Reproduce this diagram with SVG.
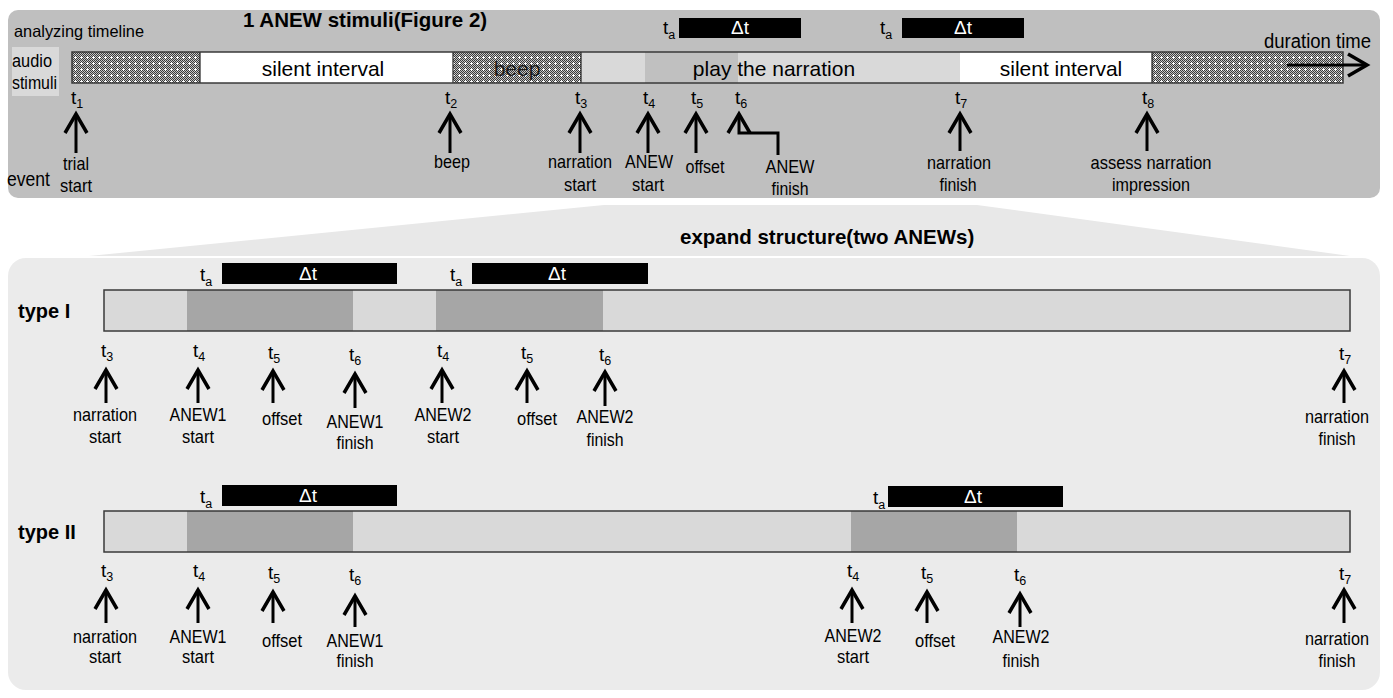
<svg xmlns="http://www.w3.org/2000/svg" width="1393" height="698" viewBox="0 0 1393 698">
  <defs>
    <style>
      text { font-family: "Liberation Sans", Arial, sans-serif; fill: #000; }
      .lbl { font-size: 18.5px; text-anchor: middle; }
      .tk { font-size: 19px; }
      .sub { font-size: 12.5px; }
      .bar-txt { font-size: 21px; text-anchor: middle; }
      .title { font-size: 20.5px; font-weight: bold; }
      .type { font-size: 20px; font-weight: bold; }
      .dt { font-size: 19px; fill: #fff; text-anchor: middle; }
      .dtbox { fill: #000; }
      .light { fill: #d9d9d9; }
      .dark { fill: #a6a6a6; }
      .frame { fill: none; stroke: #3a3a3a; stroke-width: 1.5; }
      .arr { fill: none; stroke: #000; stroke-width: 3; marker-end: url(#head); }
    </style>
    <!-- fine dithered fill used for the sound segments -->
    <pattern id="chk" width="2" height="2" patternUnits="userSpaceOnUse">
      <rect width="2" height="2" fill="#c4c4c4"/>
      <rect width="1" height="1" fill="#3a3a3a"/>
      <rect x="1" y="1" width="1" height="1" fill="#3a3a3a"/>
    </pattern>
    <pattern id="stip" width="6" height="6" patternUnits="userSpaceOnUse">
      <rect width="6" height="6" fill="url(#chk)"/>
      <rect x="2" y="3" width="3" height="1" fill="#fff"/>
      <rect x="3" y="2" width="1" height="3" fill="#fff"/>
    </pattern>
    <!-- open chevron arrowhead -->
    <marker id="head" markerUnits="userSpaceOnUse" viewBox="-22 -12 24 24" refX="0" refY="0" markerWidth="24" markerHeight="24" orient="auto" overflow="visible">
      <path d="M-19,-11 L0,0 L-19,11" fill="none" stroke="#000" stroke-width="3.5" stroke-linejoin="miter" stroke-miterlimit="10"/>
    </marker>
  </defs>

  <!-- backgrounds -->
  <rect x="8" y="10" width="1372" height="188" rx="10" fill="#bfbfbf"/>
  <polygon points="604,205 977,205 1350,256 89,256" fill="#e8e8e8"/>
  <rect x="8" y="258" width="1372" height="432" rx="18" fill="#ebebeb"/>

  <!-- ===== top timeline ===== -->
  <g id="header-top">
    <text x="14" y="37" style="font-size:16.5px" textLength="130" lengthAdjust="spacingAndGlyphs">analyzing timeline</text>
    <text class="title" x="243" y="27">1 ANEW stimuli(Figure 2)</text>
    <text x="1371" y="48" style="font-size:19.5px;text-anchor:end" textLength="107" lengthAdjust="spacingAndGlyphs">duration time</text>
  </g>

  <g id="audio-label">
    <rect x="12" y="47" width="47" height="49" fill="#d9d9d9"/>
    <text x="12" y="67" style="font-size:17.5px" textLength="40" lengthAdjust="spacingAndGlyphs">audio</text>
    <text x="12" y="89" style="font-size:17.5px" textLength="45" lengthAdjust="spacingAndGlyphs">stimuli</text>
  </g>

  <g id="event-label">
    <text x="7" y="186" style="font-size:20px" textLength="43" lengthAdjust="spacingAndGlyphs">event</text>
  </g>

  <g id="audio-bar">
    <rect x="72" y="52" width="128" height="31" fill="url(#stip)"/>
    <rect x="200" y="52" width="253" height="31" fill="#fff"/>
    <rect x="453" y="52" width="128" height="31" fill="url(#stip)"/>
    <rect x="581" y="52" width="64" height="31" class="light"/>
    <rect x="645" y="52" width="93" height="31" fill="#c0c0c0"/>
    <rect x="738" y="52" width="222" height="31" class="light"/>
    <rect x="960" y="52" width="192" height="31" fill="#fff"/>
    <rect x="1152" y="52" width="191" height="31" fill="url(#stip)"/>
    <path d="M200,52V83M453,52V83M581,52V83M1152,52V83" stroke="#222" stroke-width="1.2"/>
    <rect x="72" y="52" width="1271" height="31" class="frame"/>
    <text class="bar-txt" x="323" y="76">silent interval</text>
    <text class="bar-txt" x="517" y="76" style="fill:#1a1a1a">beep</text>
    <text class="bar-txt" x="774" y="76">play the narration</text>
    <text class="bar-txt" x="1061" y="76">silent interval</text>
  </g>

  <g id="dt-top-1">
    <rect class="dtbox" x="679" y="18" width="122" height="20"/>
    <text class="dt" x="740" y="34">Δt</text>
    <text class="tk" x="663" y="34">t<tspan class="sub" dy="5">a</tspan></text>
  </g>
  <g id="dt-top-2">
    <rect class="dtbox" x="902" y="18" width="122" height="20"/>
    <text class="dt" x="963" y="34">Δt</text>
    <text class="tk" x="880" y="34">t<tspan class="sub" dy="5">a</tspan></text>
  </g>

  <g id="top-t1">
    <text class="tk" x="71" y="104">t<tspan class="sub" dy="4">1</tspan></text>
    <text class="lbl" x="76" y="170" textLength="26" lengthAdjust="spacingAndGlyphs">trial</text>
    <text class="lbl" x="76" y="192" textLength="32" lengthAdjust="spacingAndGlyphs">start</text>
  </g>
  <g id="top-t2">
    <text class="tk" x="445" y="104">t<tspan class="sub" dy="4">2</tspan></text>
    <text class="lbl" x="452" y="168" textLength="36" lengthAdjust="spacingAndGlyphs">beep</text>
  </g>
  <g id="top-t3">
    <text class="tk" x="575" y="104">t<tspan class="sub" dy="4">3</tspan></text>
    <text class="lbl" x="580" y="168" textLength="64" lengthAdjust="spacingAndGlyphs">narration</text>
    <text class="lbl" x="580" y="191" textLength="32" lengthAdjust="spacingAndGlyphs">start</text>
  </g>
  <g id="top-t4">
    <text class="tk" x="643" y="104">t<tspan class="sub" dy="4">4</tspan></text>
    <text class="lbl" x="649" y="168" textLength="48" lengthAdjust="spacingAndGlyphs">ANEW</text>
    <text class="lbl" x="648" y="191" textLength="32" lengthAdjust="spacingAndGlyphs">start</text>
  </g>
  <g id="top-t5">
    <text class="tk" x="691" y="104">t<tspan class="sub" dy="4">5</tspan></text>
    <text class="lbl" x="705" y="173" textLength="39" lengthAdjust="spacingAndGlyphs">offset</text>
  </g>
  <g id="top-t6">
    <text class="tk" x="735" y="104">t<tspan class="sub" dy="4">6</tspan></text>
    <text class="lbl" x="790" y="173" textLength="49" lengthAdjust="spacingAndGlyphs">ANEW</text>
    <text class="lbl" x="790" y="195" textLength="37" lengthAdjust="spacingAndGlyphs">finish</text>
  </g>
  <g id="top-t7">
    <text class="tk" x="955" y="104">t<tspan class="sub" dy="4">7</tspan></text>
    <text class="lbl" x="959" y="169" textLength="64" lengthAdjust="spacingAndGlyphs">narration</text>
    <text class="lbl" x="958" y="191" textLength="37" lengthAdjust="spacingAndGlyphs">finish</text>
  </g>
  <g id="top-t8">
    <text class="tk" x="1142" y="104">t<tspan class="sub" dy="4">8</tspan></text>
    <text class="lbl" x="1151" y="169" textLength="121" lengthAdjust="spacingAndGlyphs">assess narration</text>
    <text class="lbl" x="1151" y="191" textLength="78" lengthAdjust="spacingAndGlyphs">impression</text>
  </g>

  <!-- ===== expanded structure ===== -->
  <g id="header-expand">
    <text class="title" x="680" y="244">expand structure(two ANEWs)</text>
  </g>

  <g id="type1-bar">
    <text class="type" x="18" y="318">type I</text>
    <rect x="104" y="290" width="83" height="41" class="light"/>
    <rect x="187" y="290" width="166" height="41" class="dark"/>
    <rect x="353" y="290" width="83" height="41" class="light"/>
    <rect x="436" y="290" width="167" height="41" class="dark"/>
    <rect x="603" y="290" width="747" height="41" class="light"/>
    <rect x="104" y="290" width="1246" height="41" class="frame"/>
  </g>
  <g id="type1-dt-1">
    <rect class="dtbox" x="222" y="263" width="175" height="21"/>
    <text class="dt" x="308" y="280">Δt</text>
    <text class="tk" x="200" y="281">t<tspan class="sub" dy="5">a</tspan></text>
  </g>
  <g id="type1-dt-2">
    <rect class="dtbox" x="472" y="263" width="176" height="21"/>
    <text class="dt" x="557" y="280">Δt</text>
    <text class="tk" x="450" y="281">t<tspan class="sub" dy="5">a</tspan></text>
  </g>

  <g id="type1-t3">
    <text class="tk" x="101" y="357">t<tspan class="sub" dy="4">3</tspan></text>
    <text class="lbl" x="105" y="421" textLength="64" lengthAdjust="spacingAndGlyphs">narration</text>
    <text class="lbl" x="105" y="443" textLength="32" lengthAdjust="spacingAndGlyphs">start</text>
  </g>
  <g id="type1-t4a">
    <text class="tk" x="193" y="357">t<tspan class="sub" dy="4">4</tspan></text>
    <text class="lbl" x="198" y="421" textLength="57" lengthAdjust="spacingAndGlyphs">ANEW1</text>
    <text class="lbl" x="198" y="443" textLength="32" lengthAdjust="spacingAndGlyphs">start</text>
  </g>
  <g id="type1-t5a">
    <text class="tk" x="268" y="359">t<tspan class="sub" dy="4">5</tspan></text>
    <text class="lbl" x="282" y="425" textLength="40" lengthAdjust="spacingAndGlyphs">offset</text>
  </g>
  <g id="type1-t6a">
    <text class="tk" x="349" y="361">t<tspan class="sub" dy="4">6</tspan></text>
    <text class="lbl" x="355" y="428" textLength="57" lengthAdjust="spacingAndGlyphs">ANEW1</text>
    <text class="lbl" x="355" y="449" textLength="37" lengthAdjust="spacingAndGlyphs">finish</text>
  </g>
  <g id="type1-t4b">
    <text class="tk" x="437" y="357">t<tspan class="sub" dy="4">4</tspan></text>
    <text class="lbl" x="443" y="421" textLength="57" lengthAdjust="spacingAndGlyphs">ANEW2</text>
    <text class="lbl" x="443" y="443" textLength="32" lengthAdjust="spacingAndGlyphs">start</text>
  </g>
  <g id="type1-t5b">
    <text class="tk" x="521" y="359">t<tspan class="sub" dy="4">5</tspan></text>
    <text class="lbl" x="537" y="425" textLength="40" lengthAdjust="spacingAndGlyphs">offset</text>
  </g>
  <g id="type1-t6b">
    <text class="tk" x="599" y="361">t<tspan class="sub" dy="4">6</tspan></text>
    <text class="lbl" x="605" y="423" textLength="57" lengthAdjust="spacingAndGlyphs">ANEW2</text>
    <text class="lbl" x="605" y="446" textLength="37" lengthAdjust="spacingAndGlyphs">finish</text>
  </g>
  <g id="type1-t7">
    <text class="tk" x="1339" y="360">t<tspan class="sub" dy="4">7</tspan></text>
    <text class="lbl" x="1337" y="423" textLength="64" lengthAdjust="spacingAndGlyphs">narration</text>
    <text class="lbl" x="1337" y="445" textLength="37" lengthAdjust="spacingAndGlyphs">finish</text>
  </g>

  <g id="type2-bar">
    <text class="type" x="18" y="539">type II</text>
    <rect x="104" y="511" width="83" height="41" class="light"/>
    <rect x="187" y="511" width="166" height="41" class="dark"/>
    <rect x="353" y="511" width="498" height="41" class="light"/>
    <rect x="851" y="511" width="166" height="41" class="dark"/>
    <rect x="1017" y="511" width="333" height="41" class="light"/>
    <rect x="104" y="511" width="1246" height="41" class="frame"/>
  </g>
  <g id="type2-dt-1">
    <rect class="dtbox" x="222" y="485" width="175" height="21"/>
    <text class="dt" x="308" y="502">Δt</text>
    <text class="tk" x="200" y="503">t<tspan class="sub" dy="5">a</tspan></text>
  </g>
  <g id="type2-dt-2">
    <rect class="dtbox" x="888" y="486" width="175" height="21"/>
    <text class="dt" x="973" y="503">Δt</text>
    <text class="tk" x="873" y="504">t<tspan class="sub" dy="5">a</tspan></text>
  </g>

  <g id="type2-t3">
    <text class="tk" x="101" y="577">t<tspan class="sub" dy="4">3</tspan></text>
    <text class="lbl" x="105" y="643" textLength="64" lengthAdjust="spacingAndGlyphs">narration</text>
    <text class="lbl" x="105" y="663" textLength="32" lengthAdjust="spacingAndGlyphs">start</text>
  </g>
  <g id="type2-t4a">
    <text class="tk" x="193" y="577">t<tspan class="sub" dy="4">4</tspan></text>
    <text class="lbl" x="198" y="643" textLength="57" lengthAdjust="spacingAndGlyphs">ANEW1</text>
    <text class="lbl" x="198" y="663" textLength="32" lengthAdjust="spacingAndGlyphs">start</text>
  </g>
  <g id="type2-t5a">
    <text class="tk" x="268" y="579">t<tspan class="sub" dy="4">5</tspan></text>
    <text class="lbl" x="282" y="647" textLength="40" lengthAdjust="spacingAndGlyphs">offset</text>
  </g>
  <g id="type2-t6a">
    <text class="tk" x="349" y="581">t<tspan class="sub" dy="4">6</tspan></text>
    <text class="lbl" x="355" y="647" textLength="57" lengthAdjust="spacingAndGlyphs">ANEW1</text>
    <text class="lbl" x="355" y="667" textLength="37" lengthAdjust="spacingAndGlyphs">finish</text>
  </g>
  <g id="type2-t4b">
    <text class="tk" x="847" y="577">t<tspan class="sub" dy="4">4</tspan></text>
    <text class="lbl" x="853" y="642" textLength="57" lengthAdjust="spacingAndGlyphs">ANEW2</text>
    <text class="lbl" x="853" y="663" textLength="32" lengthAdjust="spacingAndGlyphs">start</text>
  </g>
  <g id="type2-t5b">
    <text class="tk" x="921" y="579">t<tspan class="sub" dy="4">5</tspan></text>
    <text class="lbl" x="935" y="647" textLength="40" lengthAdjust="spacingAndGlyphs">offset</text>
  </g>
  <g id="type2-t6b">
    <text class="tk" x="1014" y="581">t<tspan class="sub" dy="4">6</tspan></text>
    <text class="lbl" x="1021" y="643" textLength="57" lengthAdjust="spacingAndGlyphs">ANEW2</text>
    <text class="lbl" x="1021" y="667" textLength="37" lengthAdjust="spacingAndGlyphs">finish</text>
  </g>
  <g id="type2-t7">
    <text class="tk" x="1339" y="580">t<tspan class="sub" dy="4">7</tspan></text>
    <text class="lbl" x="1337" y="645" textLength="64" lengthAdjust="spacingAndGlyphs">narration</text>
    <text class="lbl" x="1337" y="667" textLength="37" lengthAdjust="spacingAndGlyphs">finish</text>
  </g>

  <!-- ===== connectors ===== -->
  <g id="connectors">
    <!-- top timeline -->
    <path class="arr" d="M76,153V114"/>
    <path class="arr" d="M450,153V114"/>
    <path class="arr" d="M580,153V114"/>
    <path class="arr" d="M648,153V114"/>
    <path class="arr" d="M696,153V114"/>
    <path class="arr" d="M778,155V133H739V114"/>
    <path class="arr" d="M960,151V114"/>
    <path class="arr" d="M1147,151V114"/>
    <path class="arr" d="M1287,65H1367"/>
    <!-- type I -->
    <path class="arr" d="M106,403V370"/>
    <path class="arr" d="M198,403V370"/>
    <path class="arr" d="M273,403V371"/>
    <path class="arr" d="M355,408V374"/>
    <path class="arr" d="M442,403V370"/>
    <path class="arr" d="M527,403V371"/>
    <path class="arr" d="M605,406V372"/>
    <path class="arr" d="M1344,403V371"/>
    <!-- type II -->
    <path class="arr" d="M106,623V590"/>
    <path class="arr" d="M198,623V590"/>
    <path class="arr" d="M273,623V592"/>
    <path class="arr" d="M355,627V596"/>
    <path class="arr" d="M852,623V590"/>
    <path class="arr" d="M927,623V592"/>
    <path class="arr" d="M1020,627V594"/>
    <path class="arr" d="M1344,623V590"/>
  </g>
</svg>
